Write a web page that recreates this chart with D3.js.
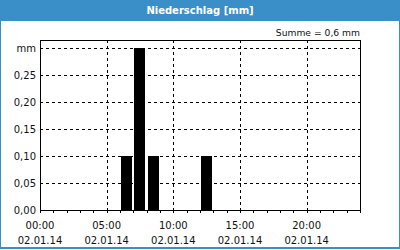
<!DOCTYPE html>
<html><head><meta charset="utf-8">
<script src="https://cdn.jsdelivr.net/npm/d3@7"></script>
<style>
html,body{margin:0;padding:0;background:#fff;}
svg{display:block;}
text{font-family:"DejaVu Sans",sans-serif;fill:#111;}
</style></head>
<body>
<script>
// ---- data ----
const title = "Niederschlag [mm]";
const sumLabel = "Summe = 0,6 mm";
const hourStarts = [6, 7, 8, 12];
const precip = [0.1, 0.3, 0.1, 0.1];
const xTickHours = [0, 5, 10, 15, 20];
const xTimeLabels = ["00:00", "05:00", "10:00", "15:00", "20:00"];
const xDateLabels = ["02.01.14", "02.01.14", "02.01.14", "02.01.14", "02.01.14"];
const yTickValues = [0, 0.05, 0.10, 0.15, 0.20, 0.25, 0.30];
const yTickLabels = ["0,00", "0,05", "0,10", "0,15", "0,20", "0,25", "mm"];

const W = 400, H = 250;
const blue = "#3a8fc8";
const svg = d3.select("body").append("svg").attr("width", W).attr("height", H);

// frame
svg.append("rect").attr("x", 0.5).attr("y", 0.5).attr("width", W - 1).attr("height", H - 2)
  .attr("fill", "#fff").attr("stroke", blue).attr("stroke-width", 1);
svg.append("rect").attr("x", 0).attr("y", 0).attr("width", W).attr("height", 21).attr("fill", blue);
svg.append("rect").attr("x", 0).attr("y", 247).attr("width", W).attr("height", 2).attr("fill", blue);
svg.append("text").attr("x", 200).attr("y", 10.5).attr("text-anchor", "middle")
  .attr("dominant-baseline", "central").style("font-weight", "bold").style("font-size", "10px")
  .style("fill", "#fff").text(title);

const L = 40, R = 360, T = 40, B = 210;
const x = d3.scaleLinear().domain([0, 24]).range([L, R]);
const y = d3.scaleLinear().domain([0, 0.30]).range([B, 48]);
const px = v => Math.round(v) + 0.5;

// grid
const g = svg.append("g");
g.selectAll("line.hg").data(yTickValues.filter(v => v > 0)).join("line")
  .attr("x1", L).attr("x2", R).attr("y1", d => px(y(d))).attr("y2", d => px(y(d)))
  .attr("stroke", "#000").attr("stroke-dasharray", "3,3");
g.selectAll("line.vg").data(xTickHours.filter(v => v > 0)).join("line")
  .attr("y1", T).attr("y2", B).attr("x1", d => px(x(d))).attr("x2", d => px(x(d)))
  .attr("stroke", "#000").attr("stroke-dasharray", "3,3");

// bars
const bw = (x(1) - x(0)) - 2.3;
svg.selectAll("rect.bar").data(hourStarts).join("rect")
  .attr("x", d => Math.round(x(d)) + 1).attr("width", Math.round(bw))
  .attr("y", (d, i) => Math.round(y(precip[i]))).attr("height", (d, i) => B - Math.round(y(precip[i])))
  .attr("fill", "#000");

// plot frame
svg.append("rect").attr("x", L + 0.5).attr("y", T + 0.5).attr("width", R - L).attr("height", B - T)
  .attr("fill", "none").attr("stroke", "#000");

// x ticks (hourly, downward)
svg.selectAll("line.xt").data(d3.range(0, 25)).join("line")
  .attr("x1", d => px(x(d))).attr("x2", d => px(x(d))).attr("y1", B).attr("y2", B + 3)
  .attr("stroke", "#000");

// x labels
svg.selectAll("text.xl").data(xTickHours).join("text")
  .attr("x", d => x(d)).attr("y", 225).attr("text-anchor", "middle").attr("dominant-baseline", "central")
  .style("font-size", "10px").text((d, i) => xTimeLabels[i]);
svg.selectAll("text.xd").data(xTickHours).join("text")
  .attr("x", d => x(d)).attr("y", 240).attr("text-anchor", "middle").attr("dominant-baseline", "central")
  .style("font-size", "10px").text((d, i) => xDateLabels[i]);

// y labels
svg.selectAll("text.yl").data(yTickValues).join("text")
  .attr("x", 36).attr("y", d => y(d)).attr("text-anchor", "end").attr("dominant-baseline", "central")
  .style("font-size", "10px").text((d, i) => yTickLabels[i]);

// sum label
svg.append("text").attr("x", 360).attr("y", 32).attr("text-anchor", "end").attr("dominant-baseline", "central")
  .style("font-size", "9.2px").text(sumLabel);
</script>
</body></html>
